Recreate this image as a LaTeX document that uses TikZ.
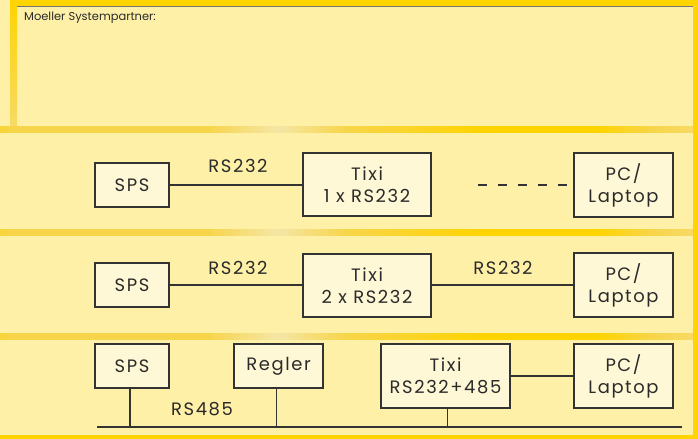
\documentclass[tikz,border=0pt]{standalone}
\usepackage{fontspec}
\setmainfont{Poppins}[LetterSpace=9]
\newfontfamily\titlefont{Poppins}
\usetikzlibrary{calc}
\definecolor{bg}{HTML}{FFF0A8}
\definecolor{boxfill}{HTML}{FFF8D6}
\definecolor{gold}{HTML}{FFD400}
\definecolor{bandc}{HTML}{F7D54A}
\definecolor{bandl}{HTML}{F5E6A6}
\definecolor{edge}{HTML}{333333}
\definecolor{txt}{HTML}{2A2A2A}
\pgfdeclarehorizontalshading{bandshade}{100bp}{
  color(0bp)=(bandc); color(8bp)=(bandc); color(12bp)=(bandl); color(15bp)=(gold);
  color(22bp)=(gold); color(26bp)=(bandc); color(40bp)=(bandc); color(45bp)=(bandl);
  color(50bp)=(bandc); color(60bp)=(gold); color(68bp)=(gold); color(72bp)=(bandc);
  color(82bp)=(bandl); color(87bp)=(bandc); color(100bp)=(bandc)}
\tikzset{
  box/.style={draw=edge, line width=1.2bp, fill=boxfill, align=center, text=txt,
    inner sep=0pt, font=\fontsize{18}{22}\selectfont},
  conn/.style={draw=edge, line width=1.2bp},
  lbl/.style={font=\fontsize{18}{22}\selectfont, inner sep=0pt, text=txt},
  band/.style={shading=bandshade, draw=none}
}
\begin{document}
\begin{tikzpicture}[x=1bp,y=-1bp]
\useasboundingbox (0,0) rectangle (698,439);
% background
\fill[bg] (0,0) rectangle (698,439);
% top bar and right bar
\fill[gold] (10,0) rectangle (698,6);
\fill[gold] (693,0) rectangle (698,439);
\fill[gold] (0,435) rectangle (698,439);
\draw[line width=1bp, black!55] (17,6.5) -- (693,6.5);
% left stripe
\shade[top color=gold, bottom color=bandc!70!bandl] (10,0) rectangle (17,127);
% bands
\shade[band] (0,127) rectangle (693,133);
\shade[band] (0,230) rectangle (693,236);
\shade[band] (0,333) rectangle (693,339);
% title
\node[anchor=north west, inner sep=0pt, font=\titlefont\fontsize{11.5}{13}\selectfont, text=txt] (title) at (24,12) {Moeller Systempartner:};

% panel 2
\node[box, minimum width=74bp, minimum height=44bp] (sps1) at (132,185) {SPS};
\node[box, minimum width=128bp, minimum height=63bp] (tixi1) at (367,184.5) {Tixi\\1 x RS232};
\node[box, minimum width=99bp, minimum height=64bp] (pc1) at (623.5,185) {PC/\\Laptop};
\draw[conn] (sps1.east) -- (sps1.east -| tixi1.west);
\node[lbl] (l1) at (238,166) {RS232};
\coordinate (d1) at (478,185);
\draw[conn, dash pattern=on 9bp off 11bp] (d1) -- (d1 -| pc1.west);

% panel 3
\node[box, minimum width=74bp, minimum height=44bp] (sps2) at (132,285) {SPS};
\node[box, minimum width=128bp, minimum height=63bp] (tixi2) at (367,285.5) {Tixi\\2 x RS232};
\node[box, minimum width=99bp, minimum height=64bp] (pc2) at (623.5,285) {PC/\\Laptop};
\draw[conn] (sps2.east) -- (sps2.east -| tixi2.west);
\draw[conn] (tixi2.east |- pc2.west) -- (pc2.west);
\node[lbl] (l2) at (238,268) {RS232};
\node[lbl] (l3) at (503,268) {RS232};

% panel 4
\node[box, minimum width=74bp, minimum height=44bp] (sps3) at (132,366) {SPS};
\node[box, minimum width=89bp, minimum height=44bp] (regler) at (278.5,366) {Regler};
\node[box, minimum width=129bp, minimum height=64bp] (tixi3) at (445.5,376) {Tixi\\RS232+485};
\node[box, minimum width=99bp, minimum height=64bp] (pc3) at (623.5,376) {PC/\\Laptop};
\draw[conn] (tixi3.east) -- (pc3.west);
\coordinate (busL) at (97,427);
\coordinate (busR) at (682,427);
\draw[conn] (busL) -- (busR);
\draw[conn] ([xshift=-2bp]sps3.south) -- ([xshift=-2bp]sps3.south |- busL);
\draw[conn] ([xshift=-2bp]regler.south) -- ([xshift=-2bp]regler.south |- busL);
\draw[conn] ([xshift=2bp]tixi3.south) -- ([xshift=2bp]tixi3.south |- busL);
\node[lbl] (l4) at (202,409) {RS485};
\end{tikzpicture}
\end{document}
